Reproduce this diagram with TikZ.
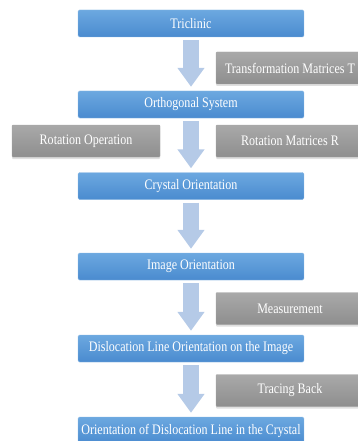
\documentclass[tikz,border=0pt]{standalone}
\usepackage{fontspec}
\setmainfont{Liberation Serif}[FakeStretch=0.83]
\usetikzlibrary{arrows.meta, shadows}

\definecolor{stepblue}{HTML}{5A9AD8}
\definecolor{steptop}{HTML}{6CA8E0}
\definecolor{stepbot}{HTML}{4A8BCF}
\definecolor{optop}{HTML}{A9A9A9}
\definecolor{opbot}{HTML}{8E8E8E}
\definecolor{flowblue}{HTML}{B5CAE7}

\begin{document}
\begin{tikzpicture}[
          x=1pt, y=-1pt,
          stage/.style={rounded corners=1.5pt, top color=steptop, bottom color=stepbot,
            draw=stepblue!70!white, text=white, minimum width=226pt, minimum height=27pt,
            inner sep=0pt, font=\fontsize{14.5}{16}\selectfont},
          operation/.style={rounded corners=1pt, top color=optop, bottom color=opbot,
            draw=opbot!80!white, text=white, minimum width=148pt, minimum height=32pt,
            inner sep=0pt, font=\fontsize{14.5}{16}\selectfont,
            drop shadow={shadow xshift=0pt, shadow yshift=-2pt, opacity=0.25}},
          flow/.style={line width=16pt, draw=flowblue, shorten <=3pt, shorten >=4pt,
            -{Triangle[width=26pt, length=19pt]}},
        ]
        \useasboundingbox (0, 0) rectangle (358, 441);

        % main chain
        \node[stage] (tri)    at (191, 23.5)  {Triclinic};
        \node[stage] (orth)   at (191, 104.5) {Orthogonal System};
        \node[stage] (cryst)  at (191, 186)   {Crystal Orientation};
        \node[stage] (img)    at (191, 266.5) {Image Orientation};
        \node[stage] (dislimg) at (191, 348.5) {Dislocation Line Orientation on the Image};
        \node[stage] (dislcr) at (191, 430.5) {Orientation of Dislocation Line in the Crystal};

        % side operations
        \node[operation] (transT) at (290, 68)    {Transformation Matrices T};
        \node[operation] (rotop)  at (86, 141)    {Rotation Operation};
        \node[operation] (rotR)   at (290, 141)   {Rotation Matrices R};
        \node[operation] (meas)   at (290, 308.5) {Measurement};
        \node[operation] (trace)  at (290, 390.5) {Tracing Back};

        \draw[flow] (tri) -- (orth);
        \draw[flow] (orth) -- (cryst);
        \draw[flow] (cryst) -- (img);
        \draw[flow] (img) -- (dislimg);
        \draw[flow] (dislimg) -- (dislcr);
      \end{tikzpicture}
\end{document}
